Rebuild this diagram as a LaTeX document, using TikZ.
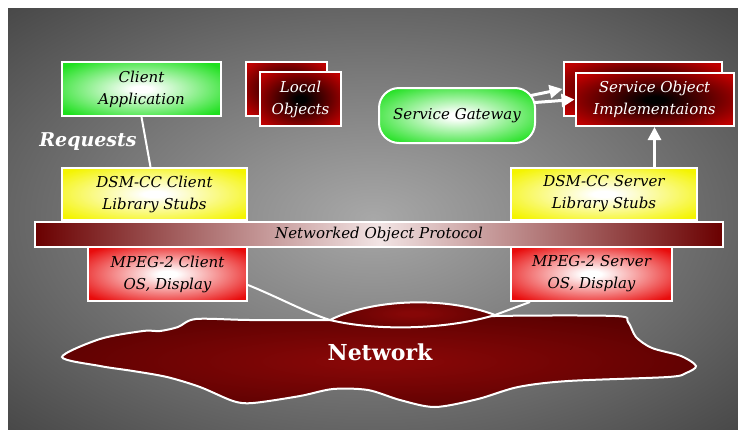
\documentclass[tikz,border=0pt]{standalone}
\usepackage{fontspec}
\setmainfont{DejaVu Serif}
\usetikzlibrary{arrows.meta}

\definecolor{bgin}{HTML}{A8A8A8}
\definecolor{bgout}{HTML}{3C3C3C}
\definecolor{greenedge}{HTML}{1EE01E}
\definecolor{yellowedge}{HTML}{F4F400}
\definecolor{rededge}{HTML}{E80C0C}
\definecolor{darkedge}{HTML}{BE0000}
\definecolor{protoend}{HTML}{6A0000}
\definecolor{protomid}{HTML}{F2E4E4}
\definecolor{netin}{HTML}{860707}
\definecolor{netout}{HTML}{560000}
\colorlet{glowin}{white}
\colorlet{glowout}{red}

\pgfdeclareradialshading{backdrop}{\pgfpoint{0bp}{0bp}}{color(0bp)=(bgin); color(40bp)=(bgout); color(80bp)=(bgout)}
\pgfdeclareradialshading[glowin,glowout]{glow}{\pgfpoint{0bp}{0bp}}{color(0bp)=(glowin); color(3bp)=(glowin); color(32bp)=(glowout); color(80bp)=(glowout)}

\newcommand\boxfont{\fontsize{15}{22}\selectfont\itshape}

\begin{document}
\begin{tikzpicture}[x=1pt,y=-1pt,
  box/.style={draw=white,line width=2pt,inner sep=0pt,align=center,font=\boxfont},
  glowing/.style 2 args={shade,shading=glow,/utils/exec={\colorlet{glowin}{#1}\colorlet{glowout}{#2}}},
  lightbox/.style={box,glowing={white}{#1},text=black},
  darkbox/.style={box,glowing={black}{darkedge},text=white},
  wire/.style={white,line width=2pt},
  pointer/.style={white,line width=3pt,-{Triangle[length=13pt,width=13pt]}}]
\useasboundingbox (0,0) rectangle (738,429);
\fill [white] (0,0) rectangle (738,429);
\shade [shading=backdrop] (8,8) rectangle (738,429);

\shade [glowing={netin}{netout},draw=white,line width=2pt] plot [smooth cycle,tension=0.5] coordinates {
  (62,357) (100,339) (143,331) (160,331) (178,327) (196,319) (250,320) (333,320) (420,320)
  (495,316) (615,316) (628,322) (636,337) (652,348) (681,356) (696,366) (686,373) (668,377)
  (568,381) (518,387) (478,399) (435,407) (400,400) (368,390) (333,389) (300,396) (253,403)
  (233,401) (200,387) (167,377) (133,371) (100,366)};
\coordinate (lobeL) at (330,320);
\coordinate (lobeR) at (495,315);
\shade [glowing={netin}{netout},draw=white,line width=2pt] (lobeL) .. controls (372,299) and (445,296) .. (lobeR)
  .. controls (445,330) and (375,331) .. cycle;

\node [lightbox=greenedge,minimum width=159pt,minimum height=54pt] (clientapp) at (141.5,89) {Client\\Application};
\node [darkbox,minimum width=81pt,minimum height=54pt] (localback) at (286.5,89) {};
\node [darkbox,minimum width=81pt,minimum height=54pt] (localobj) at (300.5,99) {Local\\Objects};
\node [lightbox=greenedge,minimum width=156pt,minimum height=55pt,rounded corners=20pt] (gateway) at (457,115.5) {Service Gateway};
\node [darkbox,minimum width=158pt,minimum height=54pt] (servback) at (642.5,89) {};
\node [darkbox,minimum width=158pt,minimum height=53pt] (servobj) at (654.5,99.5) {Service Object\\Implementaions};
\node [lightbox=yellowedge,minimum width=185pt,minimum height=52pt] (clientstub) at (154.5,194) {DSM-CC Client\\Library Stubs};
\node [lightbox=yellowedge,minimum width=186pt,minimum height=52pt] (serverstub) at (604,194) {DSM-CC Server\\Library Stubs};
\node [box,minimum width=688pt,minimum height=25pt,left color=protoend,right color=protoend,middle color=protomid,text=black] (protocol) at (379,234.5) {Networked Object Protocol};
\node [lightbox=rededge,minimum width=159pt,minimum height=54pt] (clientos) at (167.5,274) {MPEG-2 Client\\OS, Display};
\node [lightbox=rededge,minimum width=161pt,minimum height=54pt] (serveros) at (591.5,274) {MPEG-2 Server\\OS, Display};

\draw [wire] (clientapp.south) -- ([xshift=-4pt]clientstub.north);
\draw [wire] ([yshift=-11pt]clientos.east) .. controls (280,298) and (305,312) .. (lobeL);
\draw [wire] ([xshift=20pt]serveros.south west) -- (lobeR);
\draw [pointer] ([shift={(-5pt,20pt)}]gateway.east) -- (servback.west);
\draw [pointer] ([shift={(-1pt,13pt)}]gateway.east) -- (servobj.west);
\draw [pointer] (serverstub.north -| servobj.south) -- (servobj.south);

\node [font=\fontsize{19}{19}\selectfont\bfseries\itshape,text=white] (requests) at (88,142) {Requests};
\node [font=\fontsize{22}{22}\selectfont\bfseries,text=white] (netlabel) at (380,352) {Network};
\end{tikzpicture}
\end{document}
